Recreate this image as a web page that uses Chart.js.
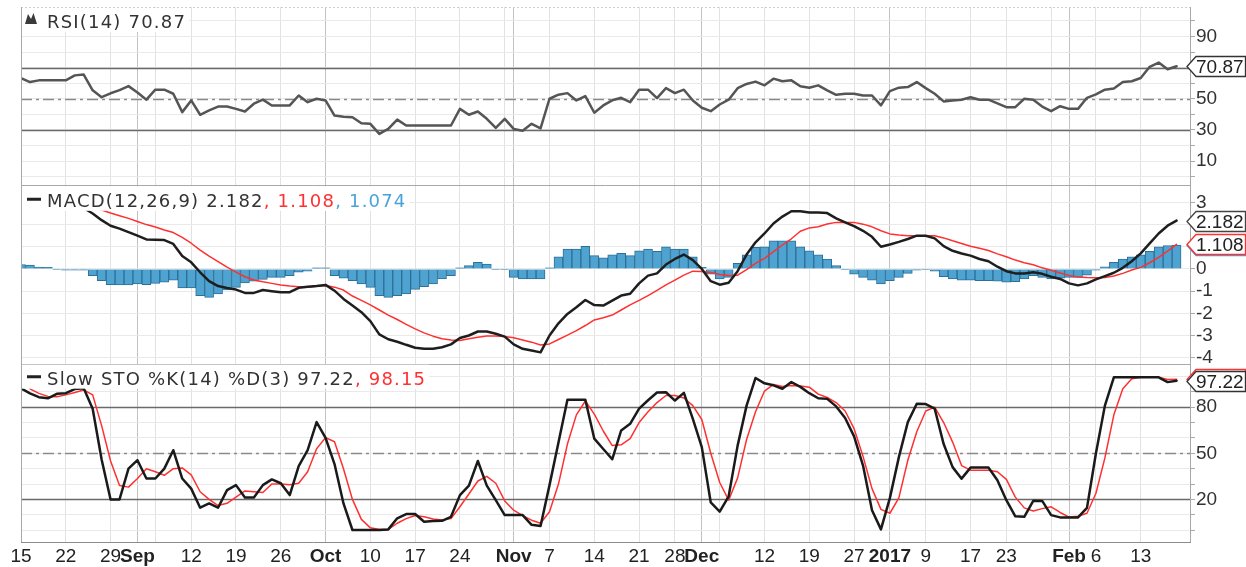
<!DOCTYPE html>
<html><head><meta charset="utf-8">
<script src="https://cdn.jsdelivr.net/npm/chart.js@4.4.1/dist/chart.umd.min.js"></script>
<style>html,body{margin:0;padding:0;background:#fff;}#wrap{width:1246px;height:567px;}</style>
</head><body><div id="wrap"><canvas id="c" width="1246" height="567"></canvas></div>
<script>
const dates = [
'2016-08-15','2016-08-16','2016-08-17','2016-08-18','2016-08-19','2016-08-22','2016-08-23','2016-08-24','2016-08-25','2016-08-26','2016-08-29','2016-08-30','2016-08-31',
'2016-09-01','2016-09-02','2016-09-06','2016-09-07','2016-09-08','2016-09-09','2016-09-12','2016-09-13','2016-09-14','2016-09-15','2016-09-16','2016-09-19','2016-09-20','2016-09-21','2016-09-22','2016-09-23','2016-09-26','2016-09-27','2016-09-28','2016-09-29','2016-09-30',
'2016-10-03','2016-10-04','2016-10-05','2016-10-06','2016-10-07','2016-10-10','2016-10-11','2016-10-12','2016-10-13','2016-10-14','2016-10-17','2016-10-18','2016-10-19','2016-10-20','2016-10-21','2016-10-24','2016-10-25','2016-10-26','2016-10-27','2016-10-28','2016-10-31',
'2016-11-01','2016-11-02','2016-11-03','2016-11-04','2016-11-07','2016-11-08','2016-11-09','2016-11-10','2016-11-11','2016-11-14','2016-11-15','2016-11-16','2016-11-17','2016-11-18','2016-11-21','2016-11-22','2016-11-23','2016-11-25','2016-11-28','2016-11-29','2016-11-30',
'2016-12-01','2016-12-02','2016-12-05','2016-12-06','2016-12-07','2016-12-08','2016-12-09','2016-12-12','2016-12-13','2016-12-14','2016-12-15','2016-12-16','2016-12-19','2016-12-20','2016-12-21','2016-12-22','2016-12-23','2016-12-27','2016-12-28','2016-12-29','2016-12-30',
'2017-01-03','2017-01-04','2017-01-05','2017-01-06','2017-01-09','2017-01-10','2017-01-11','2017-01-12','2017-01-13','2017-01-17','2017-01-18','2017-01-19','2017-01-20','2017-01-23','2017-01-24','2017-01-25','2017-01-26','2017-01-27','2017-01-30','2017-01-31',
'2017-02-01','2017-02-02','2017-02-03','2017-02-06','2017-02-07','2017-02-08','2017-02-09','2017-02-10','2017-02-13','2017-02-14','2017-02-15','2017-02-16','2017-02-17'];

const tickDates = ['2016-08-15','2016-08-22','2016-08-29','2016-09-01','2016-09-06','2016-09-12','2016-09-19','2016-09-26','2016-10-03','2016-10-10','2016-10-17','2016-10-24','2016-10-31','2016-11-01','2016-11-07','2016-11-14','2016-11-21','2016-11-28','2016-12-01','2016-12-05','2016-12-12','2016-12-19','2016-12-27','2017-01-03','2017-01-09','2017-01-17','2017-01-23','2017-01-30','2017-02-01','2017-02-06','2017-02-13'];
const tickLabels = ['15','22','29','Sep','','12','19','26','Oct','10','17','24','','Nov','7','14','21','28','Dec','','12','19','27','2017','9','17','23','','Feb','6','13'];
const monthLabels = ['Sep','Oct','Nov','Dec','2017','Feb'];

const rsi = [63.3,60.7,61.8,61.8,61.8,61.8,65,65.5,55.4,51,53.5,55.5,58.1,54,49.4,55.8,55.8,53.2,41.4,48.9,
39.7,42.5,45,45,43.5,41.8,46.8,49.4,45.7,45.7,45.7,52.1,47.8,50,48.9,39.2,38.5,38.1,34.3,33.9,
27.4,30.6,36.6,32.8,32.8,32.8,32.8,32.8,32.8,43.5,39.7,41.8,37.1,31.3,37.1,30.6,29.5,33.9,31,50,
52.6,53.6,48.9,51.7,41,45.7,49,50.6,47.8,55.8,55.8,50.4,56.8,53.6,55.8,48.9,44.2,42,46.3,49.4,
56.8,59.5,61,58.6,62.9,61.2,61.8,58,57.1,58.6,55.4,52.5,53.2,53.2,52.1,52.1,45.7,54.9,57.1,57.5,
60.7,56.8,53.2,48.3,48.9,49.4,51,49.4,49.4,47,44.6,44.6,50,49.4,45,42,45.2,43.5,43.5,50.6,
52.8,55.8,56.5,60.7,61.2,63.3,70.5,73.2,68.9,70.87];
const rsiGrid = [0,10,20,30,40,50,60,70,80,90,100];
const rsiTickLabels = [90,70,50,30,10];
const rsiBands = [70,30];
const rsiMid = 50;

const macd = [3.4,3.3,3.2,3.1,3.0,2.95,2.85,2.75,2.5,2.2,1.95,1.82,1.66,1.5,1.33,1.32,1.3,1.13,0.58,0.3,
-0.15,-0.55,-0.77,-0.86,-0.93,-1.08,-1.08,-0.95,-1.0,-1.05,-1.05,-0.85,-0.8,-0.77,-0.72,-0.98,-1.35,-1.65,-1.95,-2.35,
-2.95,-3.17,-3.28,-3.42,-3.55,-3.6,-3.6,-3.53,-3.4,-3.11,-3.0,-2.82,-2.82,-2.92,-3.05,-3.4,-3.6,-3.68,-3.76,-3.0,
-2.45,-2.03,-1.73,-1.4,-1.63,-1.65,-1.43,-1.2,-1.12,-0.65,-0.3,-0.2,0.2,0.45,0.65,0.4,0.0,-0.55,-0.71,-0.62,
-0.1,0.65,1.2,1.6,2.05,2.36,2.6,2.6,2.55,2.55,2.52,2.28,2.1,1.93,1.72,1.45,1.0,1.1,1.22,1.35,
1.5,1.5,1.38,1.03,0.82,0.7,0.6,0.45,0.35,0.1,-0.1,-0.2,-0.2,-0.15,-0.22,-0.35,-0.45,-0.65,-0.74,-0.65,
-0.47,-0.32,-0.17,0.05,0.35,0.7,1.15,1.6,1.95,2.182];
const signal = [3.4,3.35,3.28,3.2,3.1,3.0,2.92,2.84,2.76,2.66,2.52,2.4,2.28,2.14,2.0,1.89,1.76,1.64,1.42,1.16,
0.85,0.58,0.33,0.08,-0.14,-0.35,-0.5,-0.58,-0.65,-0.72,-0.77,-0.8,-0.82,-0.78,-0.75,-0.82,-0.95,-1.22,-1.42,-1.62,
-1.85,-2.08,-2.28,-2.5,-2.7,-2.88,-3.03,-3.15,-3.2,-3.23,-3.15,-3.08,-3.02,-3.02,-3.05,-3.1,-3.2,-3.3,-3.43,-3.38,
-3.18,-2.98,-2.78,-2.55,-2.3,-2.2,-2.08,-1.85,-1.62,-1.42,-1.2,-0.97,-0.72,-0.5,-0.28,-0.1,-0.12,-0.16,-0.25,-0.3,
-0.28,-0.03,0.25,0.48,0.78,1.08,1.36,1.7,1.85,1.9,2.03,2.1,2.1,2.1,2.02,1.9,1.72,1.58,1.53,1.5,
1.5,1.5,1.5,1.4,1.27,1.15,1.02,0.93,0.83,0.68,0.55,0.4,0.28,0.19,0.05,-0.06,-0.18,-0.29,-0.36,-0.39,
-0.4,-0.39,-0.32,-0.2,-0.05,0.07,0.28,0.52,0.8,1.108];
const histogram = [0.2,0.18,0.08,0.07,-0.03,-0.05,-0.05,-0.05,-0.3,-0.53,-0.71,-0.72,-0.72,-0.68,-0.71,-0.65,-0.6,-0.5,-0.86,-0.86,
-1.2,-1.28,-1.13,-0.95,-0.83,-0.63,-0.55,-0.47,-0.38,-0.38,-0.3,-0.15,-0.1,0.05,0.05,-0.3,-0.42,-0.53,-0.68,-0.83,
-1.2,-1.28,-1.2,-1.13,-0.92,-0.8,-0.68,-0.45,-0.3,0.05,0.15,0.3,0.22,-0.02,-0.02,-0.38,-0.45,-0.45,-0.45,0.05,
0.55,0.9,0.9,1.02,0.6,0.5,0.64,0.7,0.6,0.82,0.9,0.8,1.0,0.9,0.9,0.55,0.07,-0.23,-0.45,-0.38,
0.25,0.64,0.97,1.0,1.27,1.27,1.27,1.0,0.82,0.64,0.45,0.15,-0.02,-0.23,-0.38,-0.5,-0.68,-0.53,-0.38,-0.2,
-0.05,-0.02,-0.1,-0.35,-0.45,-0.5,-0.5,-0.53,-0.53,-0.55,-0.6,-0.57,-0.45,-0.3,-0.38,-0.45,-0.42,-0.38,-0.38,-0.28,
-0.05,0.1,0.3,0.44,0.55,0.64,0.8,1.0,1.05,1.074];
const macdGrid = [-4,-3,-2,-1,0,1,2,3];

const stoK = [92.3,89,86.5,85.8,88.7,89.1,91.8,92.3,79,46,20,20,40,45.5,33.6,33.6,40,52,33.6,27,
14.6,17.4,14.6,26,29.3,21.3,21.3,29.3,33,30.5,22.8,41.6,52,70.3,60,43,17.4,0.1,0.1,0.1,
0.1,0.5,7.7,10.5,10.5,5.5,6,6.1,8.7,22.8,29,45,29,19.5,9.8,9.8,9.8,3.5,2.7,29.3,
57,84.8,84.8,84.8,59.5,52.8,46.1,64.9,69.2,79,84.5,89.5,89.7,84.3,89.3,72.4,54,18,12,22,
55,81,99,95.5,94.2,92,96.3,93.2,89.1,85.8,85.4,80.5,73,61,42,13,0.5,21,47.5,70.3,
82.2,82,79,56,41,33.5,40.7,40.7,40.7,32.5,19.5,9,8.7,19.1,19,9.8,8.3,8.3,8.3,14.5,
50,81,99.4,99.4,99.4,99.4,99.4,99.4,96.3,97.22];
const stoD = [null,91.9,89,87,86.8,88,89.5,91.2,88,68,45,29,28,33.6,40,38,35.7,40,40.5,36,
25,20,16,17.5,21.5,25.5,25,24.5,30,30,29.5,30.5,38,53,60.2,57.5,40,20,7,1.5,
0.5,0.5,4.5,7.5,9.5,8.7,7.2,6.6,7.5,15.2,23.5,32,35,30.5,19,13,9.5,6.5,4.5,12,
30,56,75,84,75.5,64.5,55,55.5,59.5,70,77,83,87.6,87.6,86,81,72,50,31,19.5,
34,59,77,90.5,94.8,93.5,94.1,93.8,93,88.5,86.3,83,77.5,66,48,27,13.5,11,21,45.5,
64,77.5,80,70,57.3,42,39,39,39,38,33,21.5,14.5,12.5,14,15.2,11.5,8.5,9,11,
24,47,75,92,98.5,99.4,99.4,99.4,98,98.15];
const stoGrid = [0,10,20,30,40,50,60,70,80,90,100];
const stoTickLabels = [80,50,20];
const stoBands = [80,20];
const stoMid = 50;

const rsiTitle = 'RSI(14) 70.87';
const macdTitle = ['MACD(12,26,9) 2.182', ', 1.108', ', 1.074'];
const stoTitle = ['Slow STO %K(14) %D(3) 97.22', ', 98.15'];

// ---------------------------------------------------------------
const tickIdx = tickDates.map(d => dates.indexOf(d));
const tickMap = {}; tickIdx.forEach((v,i)=>{ tickMap[v] = tickLabels[i]; });
const isMonth = v => monthLabels.includes(tickMap[v]);
const pts = arr => arr.map((v,i)=>({x:i, y:v}));

const C_RED = '#ff3030', C_BLUE = '#4aa3d8', C_TXT = '#333';
const AXFONT = 'Liberation Sans, Arial, sans-serif';
const TFONT = '"DejaVu Sans", Verdana, sans-serif';

function yScale(min, max, grid, labels){
  return {
    type:'linear', position:'right', stack:'panels', stackWeight:1, min, max,
    afterBuildTicks: s => { s.ticks = grid.map(v=>({value:v})); },
    afterFit: s => { s.width = 56; s.paddingTop = 0; s.paddingBottom = 0; },
    grid:{color:'#e9e9e9', lineWidth:1, tickLength:5, tickColor:'#aaa', drawTicks:true},
    border:{display:false},
    ticks:{autoSkip:false, padding:1, color:'#333', font:{family:AXFONT, size:19},
      callback: v => labels.includes(v) ? String(v) : ''}
  };
}

const panelPlugin = {
  id:'panels',
  beforeDatasetsDraw(chart){
    const ctx = chart.ctx, ca = chart.chartArea;
    const line = (scale, v, dash, color, w) => {
      const y = Math.round(scale.getPixelForValue(v)) + 0.5;
      ctx.save(); ctx.strokeStyle = color; ctx.lineWidth = w; ctx.setLineDash(dash);
      ctx.beginPath(); ctx.moveTo(ca.left, y); ctx.lineTo(ca.right, y); ctx.stroke(); ctx.restore();
    };
    const yR = chart.scales.yR, yS = chart.scales.yS;
    rsiBands.forEach(v => line(yR, v, [], '#6a6a6a', 1.5));
    line(yR, rsiMid, [11,4,3,4], '#8a8a8a', 1.3);
    stoBands.forEach(v => line(yS, v, [], '#6a6a6a', 1.5));
    line(yS, stoMid, [11,4,3,4], '#8a8a8a', 1.3);
  },
  beforeDatasetDraw(chart, args){
    const ys = chart.scales[args.meta.yAxisID], ca = chart.chartArea, ctx = chart.ctx;
    ctx.save(); ctx.beginPath(); ctx.rect(ca.left, ys.top, ca.right - ca.left, ys.bottom - ys.top); ctx.clip();
  },
  afterDatasetDraw(chart){ chart.ctx.restore(); },
  afterDatasetsDraw(chart){
    const ctx = chart.ctx, ca = chart.chartArea;
    const yR = chart.scales.yR, yM = chart.scales.yM, yS = chart.scales.yS;
    ctx.save();
    ctx.strokeStyle = '#cfcfcf'; ctx.lineWidth = 1; ctx.setLineDash([2,2]);
    ctx.beginPath(); ctx.moveTo(ca.left, ca.top + 0.5); ctx.lineTo(ca.right, ca.top + 0.5); ctx.stroke();
    ctx.setLineDash([]);
    ctx.strokeStyle = '#a8a8a8';
    ctx.beginPath();
    ctx.moveTo(ca.left + 0.5, ca.top); ctx.lineTo(ca.left + 0.5, ca.bottom);
    ctx.moveTo(ca.right + 0.5, ca.top); ctx.lineTo(ca.right + 0.5, ca.bottom);
    [yR.bottom, yM.bottom].forEach(y => { ctx.moveTo(ca.left, Math.round(y) + 0.5); ctx.lineTo(ca.right, Math.round(y) + 0.5); });
    ctx.stroke();
    ctx.strokeStyle = '#8c8c8c';
    ctx.beginPath(); ctx.moveTo(ca.left, Math.round(ca.bottom) + 0.5); ctx.lineTo(ca.right + 1, Math.round(ca.bottom) + 0.5); ctx.stroke();
    ctx.restore();

    ctx.save();
    ctx.font = '18px ' + TFONT;
    try { ctx.letterSpacing = '1.2px'; } catch(e) {}
    ctx.textBaseline = 'alphabetic';
    const drawParts = (parts, colors, x, y, top) => {
      let w = 0; parts.forEach(p => w += ctx.measureText(p).width);
      ctx.fillStyle = '#fff'; ctx.fillRect(ca.left + 1, top + 1, x - ca.left + w + 2, y - top + 3);
      parts.forEach((p,i) => { ctx.fillStyle = colors[i]; ctx.fillText(p, x, y); x += ctx.measureText(p).width; });
    };
    drawParts([rsiTitle], [C_TXT], 47, yR.top + 21, yR.top);
    drawParts(macdTitle, [C_TXT, C_RED, C_BLUE], 47, yM.top + 21.5, yM.top);
    drawParts(stoTitle, [C_TXT, C_RED], 47, yS.top + 21, yS.top);
    ctx.fillStyle = '#3a3a3a';
    const t = yR.top;
    ctx.beginPath();
    ctx.moveTo(25, t + 17); ctx.lineTo(28, t + 7); ctx.lineTo(31, t + 12); ctx.lineTo(33.5, t + 6);
    ctx.lineTo(37, t + 17); ctx.closePath(); ctx.fill();
    ctx.strokeStyle = '#222'; ctx.lineWidth = 3;
    ctx.beginPath();
    ctx.moveTo(27, yM.top + 14); ctx.lineTo(41, yM.top + 14);
    ctx.moveTo(27, yS.top + 13); ctx.lineTo(41, yS.top + 13);
    ctx.stroke();
    ctx.restore();
  },
  afterDraw(chart){
    const ctx = chart.ctx, ca = chart.chartArea;
    const yR = chart.scales.yR, yM = chart.scales.yM, yS = chart.scales.yS;
    const tag = (scale, v, text, border) => {
      const y = Math.round(scale.getPixelForValue(v)) + 0.5;
      const x0 = ca.right - 3, x1 = ca.right + 6, x2 = 1245.5, h = 10;
      ctx.save();
      ctx.beginPath(); ctx.moveTo(x0, y); ctx.lineTo(x1, y - h); ctx.lineTo(x2, y - h); ctx.lineTo(x2, y + h); ctx.lineTo(x1, y + h); ctx.closePath();
      ctx.fillStyle = '#fff'; ctx.fill(); ctx.strokeStyle = border; ctx.lineWidth = 1.3; ctx.stroke();
      ctx.fillStyle = '#222'; ctx.font = '19px ' + AXFONT; ctx.textBaseline = 'middle'; ctx.textAlign = 'left';
      ctx.fillText(text, ca.right + 6, y + 1);
      ctx.restore();
    };
    tag(yR, rsi[rsi.length-1], rsi[rsi.length-1].toFixed(2), '#333');
    tag(yM, histogram[histogram.length-1], histogram[histogram.length-1].toFixed(3), C_BLUE);
    tag(yM, signal[signal.length-1], signal[signal.length-1].toFixed(3), C_RED);
    tag(yM, macd[macd.length-1], macd[macd.length-1].toFixed(3), '#444');
    tag(yS, stoD[stoD.length-1], stoD[stoD.length-1].toFixed(2), C_RED);
    tag(yS, stoK[stoK.length-1], stoK[stoK.length-1].toFixed(2), '#333');
  }
};

new Chart(document.getElementById('c'), {
  type:'line',
  data:{ datasets:[
    {label:'RSI', data:pts(rsi), yAxisID:'yR', borderColor:'#555', borderWidth:2.5, pointRadius:0, order:0},
    {label:'MACD', data:pts(macd), yAxisID:'yM', borderColor:'#1e1e1e', borderWidth:2.5, pointRadius:0, order:1},
    {label:'Signal', data:pts(signal), yAxisID:'yM', borderColor:C_RED, borderWidth:1.5, pointRadius:0, order:2},
    {type:'bar', label:'Histogram', data:pts(histogram), yAxisID:'yM', backgroundColor:'#4fa3d0', borderColor:'#2d6f97', borderWidth:1, barPercentage:1, categoryPercentage:1, order:5},
    {label:'%K', data:pts(stoK), yAxisID:'yS', borderColor:'#1a1a1a', borderWidth:2.5, pointRadius:0, order:1},
    {label:'%D', data:pts(stoD), yAxisID:'yS', borderColor:C_RED, borderWidth:1.5, pointRadius:0, order:2}
  ]},
  options:{
    responsive:false, animation:false, devicePixelRatio:1,
    layout:{padding:{left:21, top:7, right:0, bottom:0}},
    plugins:{legend:{display:false}, tooltip:{enabled:false}},
    elements:{line:{tension:0, borderJoinStyle:'round', borderCapStyle:'round'}},
    scales:{
      x:{type:'linear', position:'bottom', min:0, max:130.5, offset:false,
        afterBuildTicks: s => { s.ticks = tickIdx.map(v=>({value:v})); },
        afterFit: s => { s.height = 25; s.paddingLeft = 0; s.paddingRight = 0; },
        grid:{offset:false, drawTicks:false, lineWidth:1, color: c => (c.tick && isMonth(c.tick.value)) ? '#c2c2c2' : '#e2e2e2'},
        border:{display:false},
        ticks:{autoSkip:false, maxRotation:0, padding:3, color:'#222',
          font: c => ({family:AXFONT, size:19, weight: (c.tick && isMonth(c.tick.value)) ? 'bold' : 'normal'}),
          callback: v => (tickMap[v] !== undefined ? tickMap[v] : null)}
      },
      yR: yScale(-5.6, 108.9, rsiGrid, rsiTickLabels),
      yM: yScale(-4.27, 3.77, macdGrid, macdGrid),
      yS: yScale(-7.7, 108.3, stoGrid, stoTickLabels)
    }
  },
  plugins:[panelPlugin]
});
</script></body></html>
